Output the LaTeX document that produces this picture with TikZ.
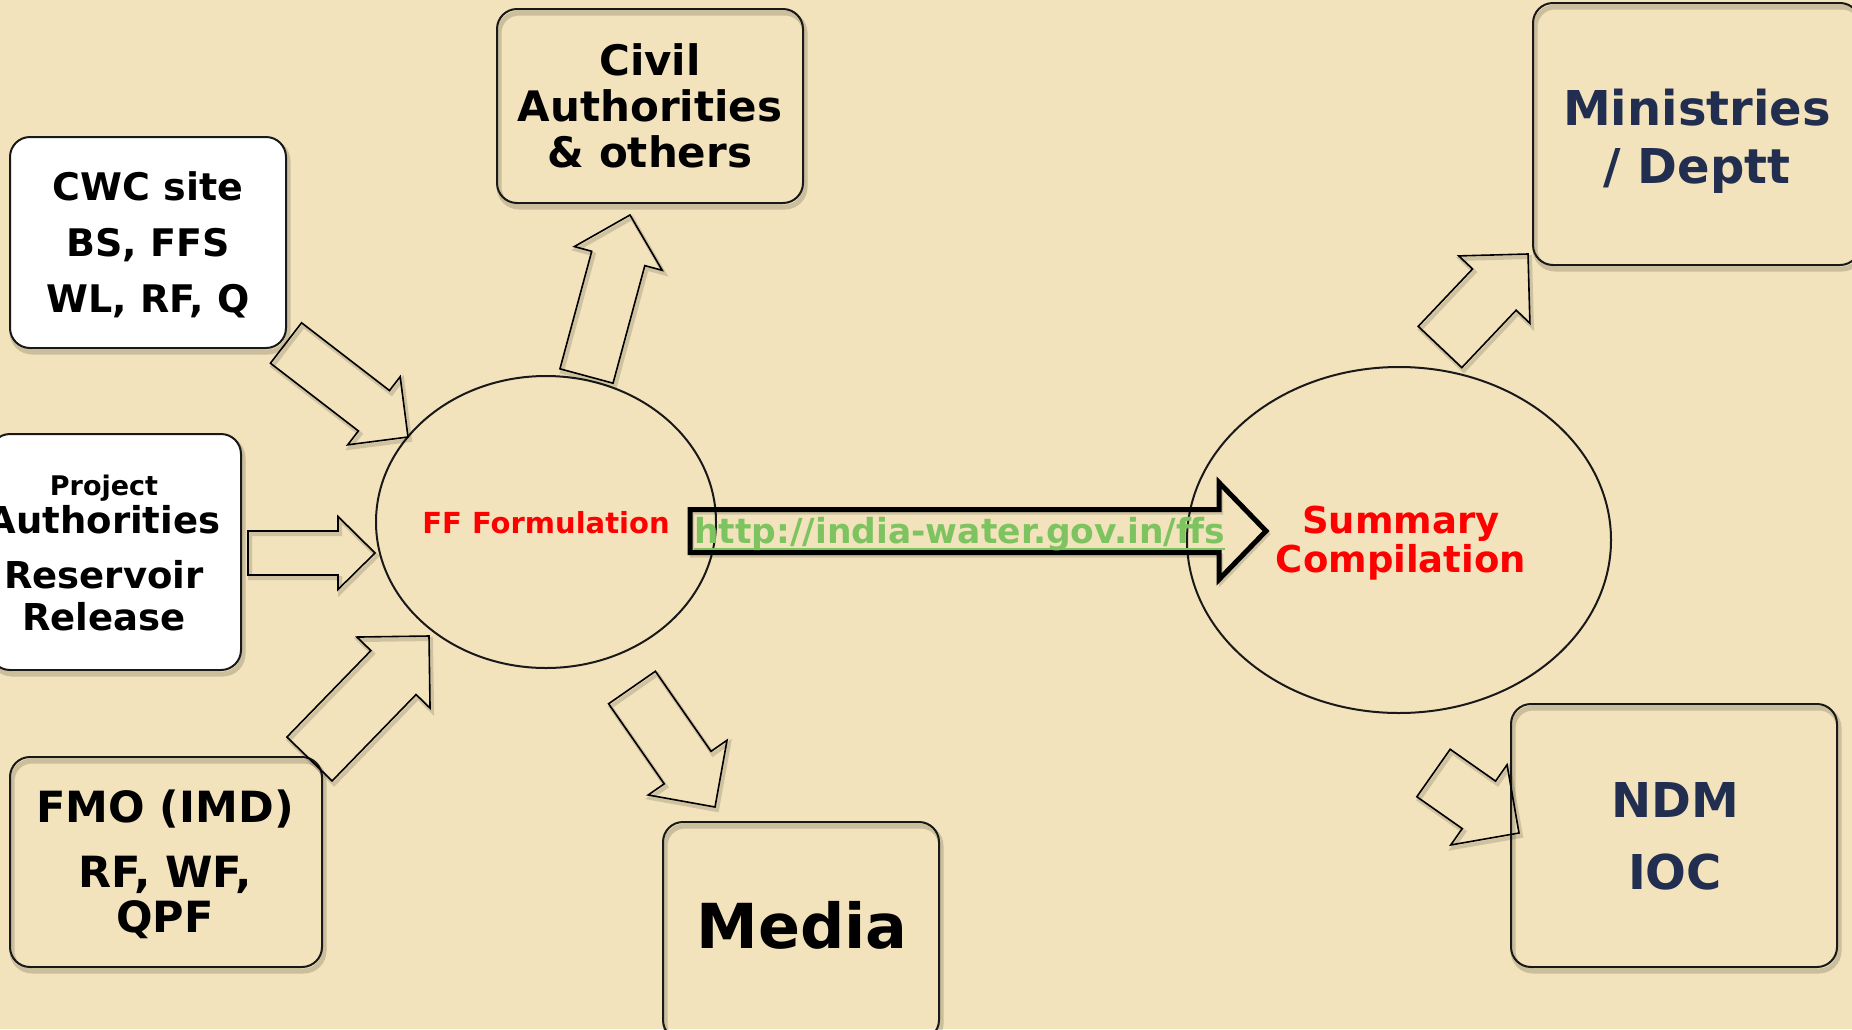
\documentclass[tikz,border=0pt]{standalone}
\usepackage{fontspec}
\setmainfont{DejaVu Sans}
\usetikzlibrary{calc,shapes.geometric}
\definecolor{bg}{RGB}{242,227,188}
\definecolor{navy}{RGB}{34,46,80}
\definecolor{ffred}{RGB}{255,0,0}
\definecolor{urlgreen}{RGB}{125,196,96}
\tikzset{
  shadowline/.style={preaction={draw=black,opacity=0.16,line width=5pt,transform canvas={shift={(2pt,-4pt)}}}},
  box/.style={draw=black!90,line width=2pt,rounded corners=20pt,inner sep=0pt,shadowline},
  oval/.style={ellipse,draw=black!90,line width=2pt,inner sep=0pt},
  barrow/.style={draw=black,line width=1.6pt,line join=miter,preaction={draw=black,opacity=0.14,line width=4pt,transform canvas={shift={(2pt,-3pt)}}}},
  bigarrow/.style={draw=black,line width=5pt,line join=miter},
  lbl/.style={inner sep=0pt,anchor=base,align=center},
}
\newcommand\blockarrow[6][]{%
  \coordinate (bah) at ($(#3)!#6!(#2)$);
  \draw[barrow,#1] ($(#2)!#4!90:(#3)$) -- ($(bah)!#4!-90:(#2)$) -- ($(bah)!#5!-90:(#2)$) -- (#3)
    -- ($(bah)!#5!90:(#2)$) -- ($(bah)!#4!90:(#2)$) -- ($(#2)!#4!-90:(#3)$) -- cycle;}
\begin{document}
\begin{tikzpicture}[x=1pt,y=-1pt]
\useasboundingbox (0,0) rectangle (1852,1029);
\fill[bg] (0,0) rectangle (1852,1029);
\clip (0,0) rectangle (1852,1029);
% boxes
\node[box,fill=white,minimum width=276pt,minimum height=211pt] (cwc) at (148,242.5) {};
\node[box,fill=white,minimum width=251pt,minimum height=236pt] (proj) at (115.5,552) {};
\node[box,minimum width=312pt,minimum height=210pt] (fmo) at (166,862) {};
\node[box,minimum width=306pt,minimum height=194pt] (civil) at (650,106) {};
\node[box,minimum width=276pt,minimum height=218pt] (media) at (801,931) {};
\node[box,minimum width=327pt,minimum height=262pt] (mini) at (1696.5,134) {};
\node[box,minimum width=326pt,minimum height=263pt] (ndm) at (1674,835.5) {};
% ellipses
\node[oval,minimum width=340pt,minimum height=292pt] (ff) at (546,522) {};
\node[oval,minimum width=424pt,minimum height=346pt] (sum) at (1399,540) {};
% texts (base anchor = baseline of the last line)
\node[lbl,font=\fontsize{38}{56}\selectfont\bfseries] (cwct) at (148,312) {CWC site\\BS, FFS\\WL, RF, Q};
\node[lbl,font=\fontsize{27}{27}\selectfont\bfseries] (pj1) at (104,495) {Project};
\node[lbl,font=\fontsize{37}{37}\selectfont\bfseries] (pj2) at (104,533) {Authorities};
\node[lbl,font=\fontsize{37}{42}\selectfont\bfseries] (pj3) at (104,630) {Reservoir\\Release};
\node[lbl,font=\fontsize{43}{45}\selectfont\bfseries] (fmot) at (165,932) {FMO (IMD)\\[20pt]RF, WF,\\QPF};
\node[lbl,font=\fontsize{42}{46}\selectfont\bfseries] (civilt) at (650,167) {Civil\\Authorities\\\& others};
\node[lbl,font=\fontsize{62}{62}\selectfont\bfseries] (mediat) at (802,948) {Media};
\node[lbl,font=\fontsize{48}{58}\selectfont\bfseries,text=navy] (minit) at (1697,183) {Ministries\\/ Deptt};
\node[lbl,font=\fontsize{48}{72}\selectfont\bfseries,text=navy] (ndmt) at (1675,889) {NDM\\IOC};
\node[lbl,font=\fontsize{29}{29}\selectfont\bfseries,text=ffred] (fft) at (546,533) {FF Formulation};
\node[lbl,font=\fontsize{37}{39}\selectfont\bfseries,text=ffred] (sumt) at (1401,572) {Summary\\Compilation};
% block arrows
\coordinate (a1s) at (286,343);   \coordinate (a1e) at (408,437);
\coordinate (a2s) at (248,553);   \coordinate (a2e) at (375,553);
\coordinate (a3s) at (309.5,759); \coordinate (a3e) at (429,636);
\coordinate (a4s) at (586.5,376); \coordinate (a4e) at (630,215);
\coordinate (a5s) at (632,687.5); \coordinate (a5e) at (715,807);
\coordinate (a6s) at (1440,347);  \coordinate (a6e) at (1528,254);
\coordinate (a7s) at (1433.5,773);\coordinate (a7e) at (1519,833);
\coordinate (a8s) at (690,531);   \coordinate (a8e) at (1266,531);
\blockarrow{a1s}{a1e}{25.5pt}{43pt}{43pt}
\blockarrow{a2s}{a2e}{22pt}{36.5pt}{37pt}
\blockarrow{a3s}{a3e}{31.5pt}{51pt}{51pt}
\blockarrow{a4s}{a4e}{27.5pt}{45.5pt}{45pt}
\blockarrow{a5s}{a5e}{28.5pt}{48pt}{48pt}
\blockarrow{a6s}{a6e}{30pt}{49pt}{49pt}
\blockarrow{a7s}{a7e}{29pt}{49pt}{49pt}
\blockarrow[bigarrow]{a8s}{a8e}{21.5pt}{48.5pt}{47pt}
% url
\node[inner sep=0pt,anchor=base west,font=\fontsize{34.5}{34.5}\selectfont\bfseries,text=urlgreen] (url) at (694,543) {http://india-water.gov.in/ffs};
\draw[urlgreen,line width=2.5pt] ([yshift=-6pt]url.base west) -- ([yshift=-6pt]url.base east);
\end{tikzpicture}
\end{document}
